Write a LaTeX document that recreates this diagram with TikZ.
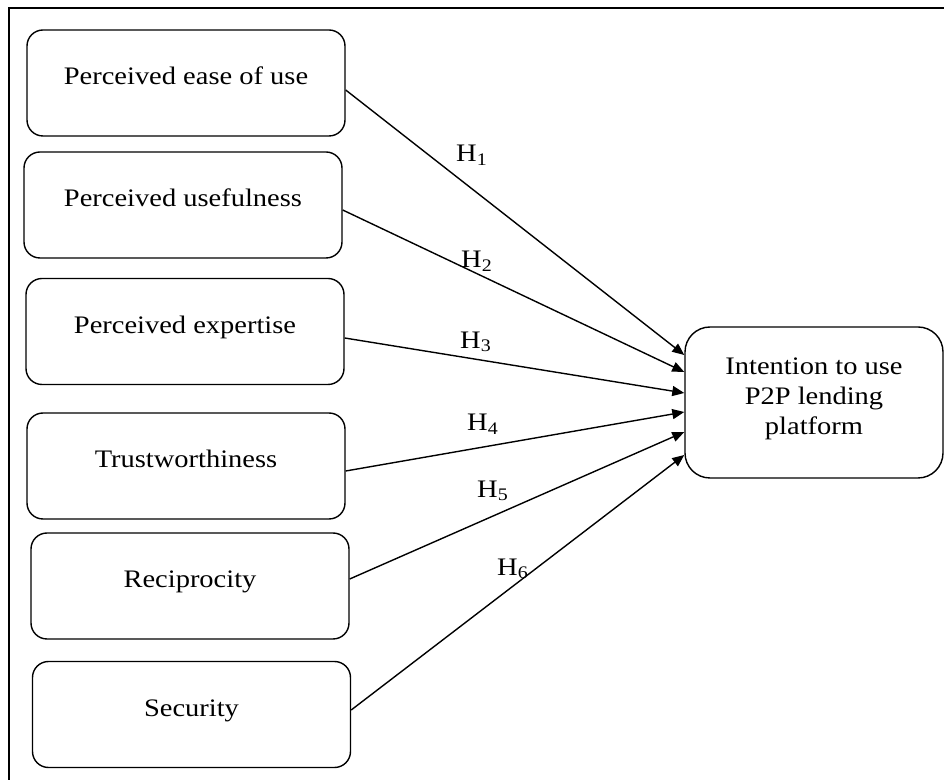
\documentclass[tikz,border=0pt]{standalone}
\usepackage{fontspec}
\setmainfont{Liberation Serif}[FakeStretch=1.13]
\usetikzlibrary{arrows.meta}

\begin{document}
\begin{tikzpicture}[x = 0.5pt, y = -0.5pt, line width = 0.7pt,
                        font = \fontsize{12.6}{15}\selectfont,
                        factor/.style = {draw, rounded corners = 8pt, minimum width = 159pt, minimum height = 53pt,
                                         inner sep = 0pt, text height = 27.5pt, text depth = 25.5pt},
                        target/.style = {draw, rounded corners = 12.5pt, minimum width = 129pt, minimum height = 75.5pt,
                                         inner sep = 0pt, align = center, text height = 54pt, text depth = 21.5pt},
                        hyp/.style = {-{Triangle[length = 6pt, width = 5pt]}},
                        hlab/.style = {inner sep = 0pt}]
      \useasboundingbox (0, 0) rectangle (944, 780);
      \draw [line width = 1.1pt] (9, 780) -- (9, 8) -- (944, 8);
      \node [factor] (pe) at (186, 83){Perceived ease of use};
      \node [factor] (pu) at (183, 205){Perceived usefulness};
      \node [factor] (px) at (185, 331.5){Perceived expertise};
      \node [factor] (tw) at (186, 466){Trustworthiness};
      \node [factor] (rc) at (190, 586){Reciprocity};
      \node [factor] (sc) at (191.5, 714.5){Security};
      \node [target] (io) at (814, 402.5){Intention to use\\P2P lending\\platform};
      \draw [hyp] ([yshift = -3.5pt]pe.east) -- ([yshift = 23.75pt]io.west);
      \draw [hyp] ([yshift = -2.5pt]pu.east) -- ([yshift = 15.25pt]io.west);
      \draw [hyp] ([yshift = -3.25pt]px.east) -- ([yshift = 4.75pt]io.west);
      \draw [hyp] ([yshift = -2.5pt]tw.east) -- ([yshift = -4.75pt]io.west);
      \draw [hyp] ([yshift = 3.5pt]rc.east) -- ([yshift = -14.75pt]io.west);
      \draw [hyp] ([yshift = 2.25pt]sc.east) -- ([yshift = -26.25pt]io.west);
      \node [hlab] (h1) at (472, 155){H\textsubscript{1}};
      \node [hlab] (h2) at (477, 261){H\textsubscript{2}};
      \node [hlab] (h3) at (476, 342){H\textsubscript{3}};
      \node [hlab] (h4) at (483, 424){H\textsubscript{4}};
      \node [hlab] (h5) at (493, 491){H\textsubscript{5}};
      \node [hlab] (h6) at (513, 569){H\textsubscript{6}};
    \end{tikzpicture}
\end{document}
